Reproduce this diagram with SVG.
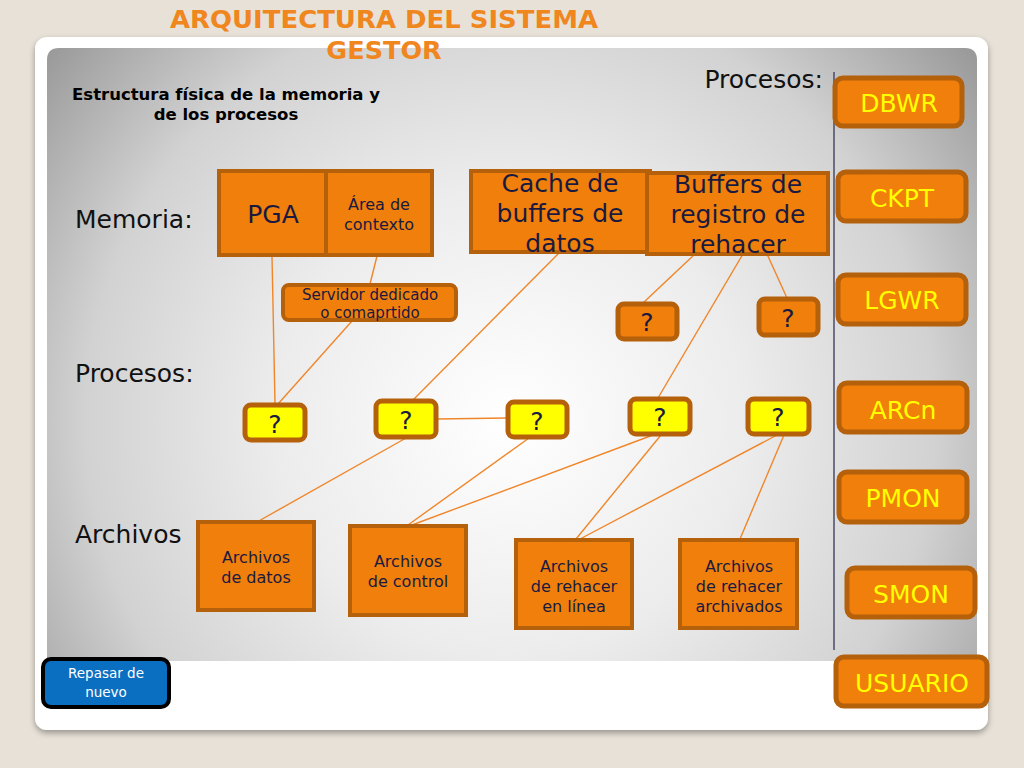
<svg xmlns="http://www.w3.org/2000/svg" width="1024" height="768" viewBox="0 0 1024 768">
<defs>
<radialGradient id="panelGrad" gradientUnits="userSpaceOnUse" cx="510" cy="420" r="590">
<stop offset="0" stop-color="#ffffff"/>
<stop offset="0.4" stop-color="#ececec"/>
<stop offset="0.72" stop-color="#d2d2d2"/>
<stop offset="1" stop-color="#9a9a9a"/>
</radialGradient>
<filter id="shadow" x="-5%" y="-5%" width="110%" height="115%">
<feGaussianBlur in="SourceAlpha" stdDeviation="3"/>
<feOffset dy="3"/>
<feComponentTransfer><feFuncA type="linear" slope="0.35"/></feComponentTransfer>
<feMerge><feMergeNode/><feMergeNode in="SourceGraphic"/></feMerge>
</filter>
</defs>
<style>
.box{fill:#f07f0b;stroke:#b5600b;stroke-width:4}
.ybox{fill:#ffff00;stroke:#b5600b;stroke-width:5}
.pbox{fill:#f07f0b;stroke:#b5600b;stroke-width:5}
.t{font-family:"DejaVu Sans","Liberation Sans",sans-serif;fill:#1a1a40;text-anchor:middle}
.lbl{font-family:"DejaVu Sans","Liberation Sans",sans-serif;fill:#111;font-size:25px}
.pt{font-family:"DejaVu Sans","Liberation Sans",sans-serif;fill:#ffff00;font-size:25px;text-anchor:middle}
.big{font-size:25px}
.mid{font-size:16px}
.sm{font-size:15px}
.conn line{stroke:#f0862a;stroke-width:1.4;fill:none}
</style>
<rect x="0" y="0" width="1024" height="768" fill="#e7e1d7"/>
<rect x="35" y="37" width="953" height="693" rx="12" fill="#ffffff" filter="url(#shadow)"/>
<path d="M47,60 Q47,48 59,48 L965,48 Q977,48 977,60 L977,661 L47,661 Z" fill="url(#panelGrad)"/>
<line x1="834" y1="72" x2="834" y2="650" stroke="#4a4a68" stroke-width="1.5"/>

<g id="title">
<text x="384" y="28" font-family="DejaVu Sans, Liberation Sans, sans-serif" font-weight="bold" font-size="25.5" fill="#f0861e" text-anchor="middle" textLength="428" lengthAdjust="spacingAndGlyphs">ARQUITECTURA DEL SISTEMA</text>
<text x="384" y="59" font-family="DejaVu Sans, Liberation Sans, sans-serif" font-weight="bold" font-size="25.5" fill="#f0861e" text-anchor="middle">GESTOR</text>
</g>
<g id="subtitle">
<text x="226" y="100" font-family="DejaVu Sans, Liberation Sans, sans-serif" font-weight="bold" font-size="16.5" fill="#000" text-anchor="middle">Estructura física de la memoria y</text>
<text x="226" y="120" font-family="DejaVu Sans, Liberation Sans, sans-serif" font-weight="bold" font-size="16.5" fill="#000" text-anchor="middle">de los procesos</text>
</g>
<g id="row-labels">
<text class="lbl" x="75" y="228">Memoria:</text>
<text class="lbl" x="75" y="382">Procesos:</text>
<text class="lbl" x="75" y="543">Archivos</text>
<text class="lbl" x="823" y="88" text-anchor="end">Procesos:</text>
</g>

<g class="conn" id="connectors">
<line x1="272" y1="256" x2="275" y2="404"/>
<line x1="377" y1="256" x2="370" y2="284"/>
<line x1="352" y1="321" x2="278" y2="404"/>
<line x1="559" y1="253" x2="413" y2="400"/>
<line x1="437" y1="419" x2="507" y2="418"/>
<line x1="695" y1="254" x2="643" y2="303"/>
<line x1="743" y1="254" x2="658" y2="398"/>
<line x1="767" y1="254" x2="787" y2="298"/>
<line x1="406" y1="438" x2="257" y2="522"/>
<line x1="529" y1="438" x2="408" y2="525"/>
<line x1="653" y1="435" x2="412" y2="525"/>
<line x1="661" y1="435" x2="576" y2="539"/>
<line x1="777" y1="435" x2="580" y2="539"/>
<line x1="784" y1="435" x2="740" y2="539"/>
</g>

<g id="node-pga"><rect class="box" x="219" y="171" width="107" height="84"/><text class="t big" x="273" y="223">PGA</text></g>
<g id="node-area"><rect class="box" x="326" y="171" width="106" height="84"/><text class="t mid" x="379" y="210">Área de</text><text class="t mid" x="379" y="230">contexto</text></g>
<g id="node-cache"><rect class="box" x="471" y="171" width="179" height="81"/><text class="t big" x="560" y="192">Cache de</text><text class="t big" x="560" y="222">buffers de</text><text class="t big" x="560" y="252">datos</text></g>
<g id="node-buffers"><rect class="box" x="647" y="173" width="181" height="81"/><text class="t big" x="738" y="193">Buffers de</text><text class="t big" x="738" y="223">registro de</text><text class="t big" x="738" y="253">rehacer</text></g>
<g id="node-servidor"><rect class="box" x="283" y="285" width="173" height="35" rx="6"/><text class="t sm" x="370" y="300">Servidor dedicado</text><text class="t sm" x="370" y="318">o comaprtido</text></g>
<g id="node-q-o1"><rect class="pbox" x="618" y="304" width="59" height="35" rx="6"/><text class="t big" x="647" y="331">?</text></g>
<g id="node-q-o2"><rect class="pbox" x="759" y="299" width="59" height="36" rx="6"/><text class="t big" x="788" y="327">?</text></g>

<g id="node-q-y1"><rect class="ybox" x="245" y="405" width="60" height="35" rx="6"/><text class="t big" x="275" y="433">?</text></g>
<g id="node-q-y2"><rect class="ybox" x="376" y="401" width="60" height="36" rx="6"/><text class="t big" x="406" y="429">?</text></g>
<g id="node-q-y3"><rect class="ybox" x="508" y="402" width="59" height="35" rx="6"/><text class="t big" x="537" y="430">?</text></g>
<g id="node-q-y4"><rect class="ybox" x="630" y="399" width="60" height="35" rx="6"/><text class="t big" x="660" y="426">?</text></g>
<g id="node-q-y5"><rect class="ybox" x="748" y="399" width="61" height="35" rx="6"/><text class="t big" x="778" y="426">?</text></g>

<g id="node-arch-datos"><rect class="box" x="198" y="522" width="116" height="88"/><text class="t mid" x="256" y="563">Archivos</text><text class="t mid" x="256" y="583">de datos</text></g>
<g id="node-arch-control"><rect class="box" x="350" y="526" width="116" height="89"/><text class="t mid" x="408" y="567">Archivos</text><text class="t mid" x="408" y="587">de control</text></g>
<g id="node-arch-linea"><rect class="box" x="516" y="540" width="116" height="88"/><text class="t mid" x="574" y="572">Archivos</text><text class="t mid" x="574" y="592">de rehacer</text><text class="t mid" x="574" y="612">en línea</text></g>
<g id="node-arch-archivados"><rect class="box" x="680" y="540" width="117" height="88"/><text class="t mid" x="739" y="572">Archivos</text><text class="t mid" x="739" y="592">de rehacer</text><text class="t mid" x="739" y="612">archivados</text></g>

<g id="node-dbwr"><rect class="pbox" x="835" y="78" width="127" height="48" rx="8"/><text class="pt" x="899" y="112">DBWR</text></g>
<g id="node-ckpt"><rect class="pbox" x="838" y="172" width="128" height="49" rx="8"/><text class="pt" x="902" y="207">CKPT</text></g>
<g id="node-lgwr"><rect class="pbox" x="838" y="275" width="128" height="49" rx="8"/><text class="pt" x="902" y="309">LGWR</text></g>
<g id="node-arcn"><rect class="pbox" x="839" y="383" width="128" height="49" rx="8"/><text class="pt" x="903" y="419">ARCn</text></g>
<g id="node-pmon"><rect class="pbox" x="839" y="472" width="128" height="50" rx="8"/><text class="pt" x="903" y="507">PMON</text></g>
<g id="node-smon"><rect class="pbox" x="847" y="568" width="128" height="49" rx="8"/><text class="pt" x="911" y="603">SMON</text></g>
<g id="node-usuario"><rect class="pbox" x="836" y="657" width="151" height="49" rx="8"/><text class="pt" x="912" y="692" font-size="26">USUARIO</text></g>

<g id="node-repasar"><rect x="43" y="659" width="126" height="48" rx="8" fill="#0b6fc1" stroke="#000" stroke-width="4"/><text x="106" y="678" font-family="DejaVu Sans, Liberation Sans, sans-serif" font-size="13.5" fill="#fff" text-anchor="middle">Repasar de</text><text x="106" y="697" font-family="DejaVu Sans, Liberation Sans, sans-serif" font-size="13.5" fill="#fff" text-anchor="middle">nuevo</text></g>
</svg>
